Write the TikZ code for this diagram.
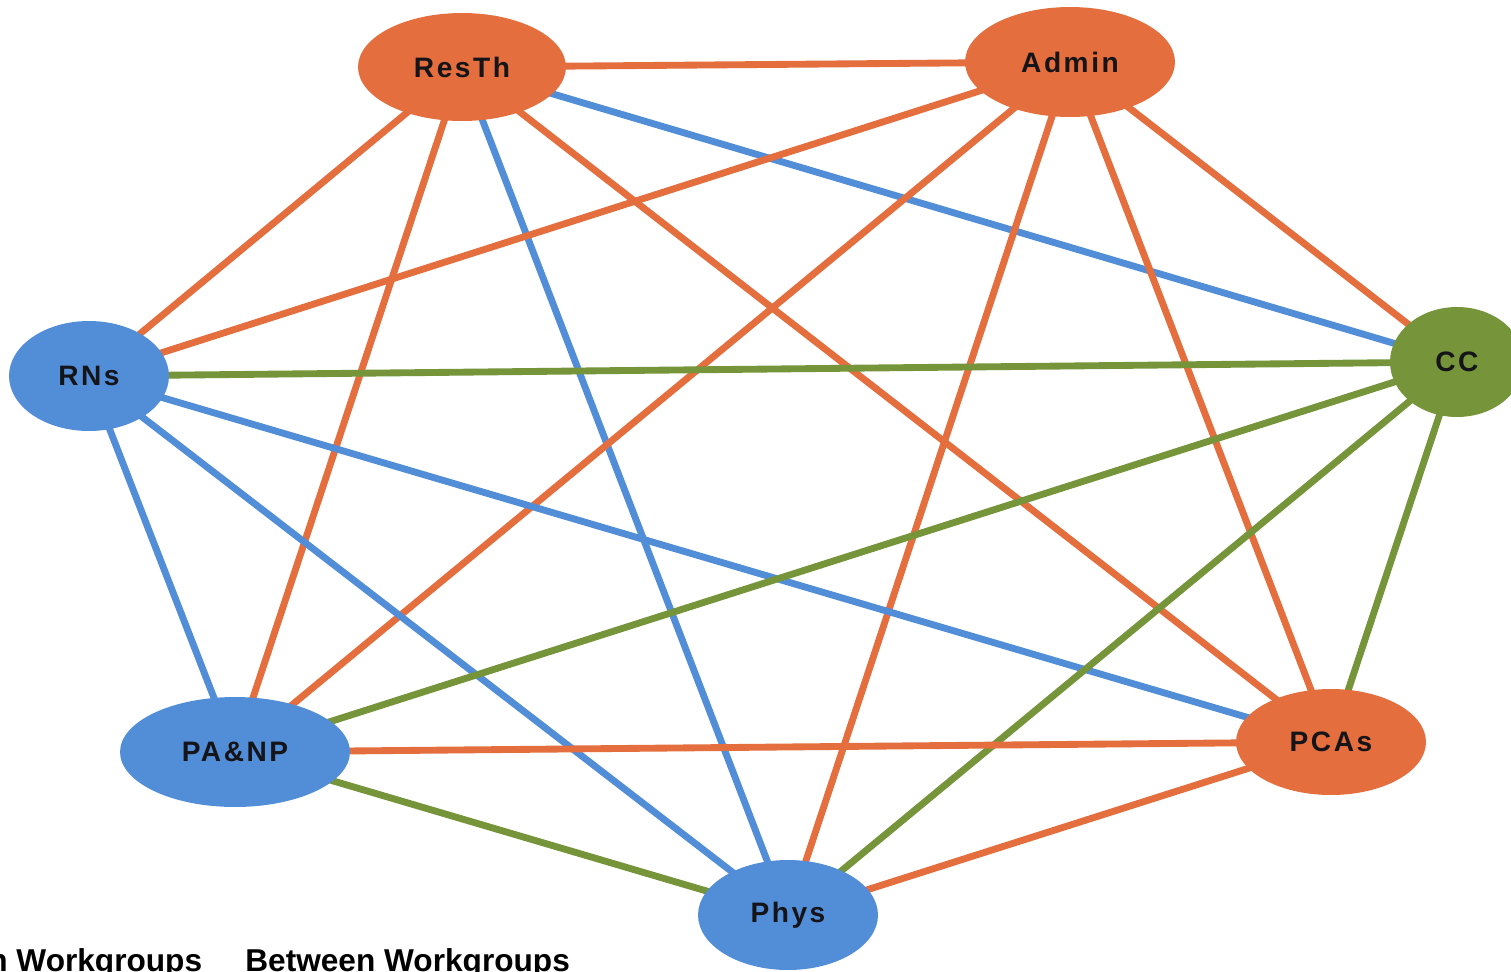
\documentclass[tikz,border=0pt]{standalone}
\usepackage{fontspec}
\setmainfont{Liberation Sans}
\newfontfamily\nodefont[LetterSpace=9]{Liberation Sans}
\usetikzlibrary{shapes.geometric,backgrounds}
\definecolor{eorange}{RGB}{228,110,62}
\definecolor{eblue}{RGB}{82,142,216}
\definecolor{egreen}{RGB}{118,148,58}
\definecolor{etext}{RGB}{20,20,25}
\tikzset{
  wg/.style={ellipse, inner sep=0pt, text=etext, font=\nodefont\fontsize{16}{18}\selectfont\bfseries},
  orn/.style={wg, fill=eorange},
  blu/.style={wg, fill=eblue},
  grn/.style={wg, fill=egreen},
  link/.style={line width=3.9pt},
  eo/.style={link, draw=eorange},
  eb/.style={link, draw=eblue},
  eg/.style={link, draw=egreen},
  legend/.style={anchor=base west, inner sep=0pt, text=black, font=\fontsize{18}{20}\selectfont\bfseries}
}
\begin{document}
\begin{tikzpicture}[x=0.02cm,y=-0.02cm]
\useasboundingbox (0,0) rectangle (1511,971);
\node[orn, minimum width=4.16cm, minimum height=2.16cm] (ResTh) at (462,67) {ResTh};
\node[orn, minimum width=4.2cm, minimum height=2.2cm] (Admin) at (1070,62) {Admin};
\node[grn, minimum width=2.68cm, minimum height=2.2cm] (CC) at (1457,362) {CC};
\node[blu, minimum width=3.2cm, minimum height=2.2cm] (RNs) at (89,376) {RNs};
\node[blu, minimum width=4.6cm, minimum height=2.2cm] (PANP) at (235,752) {PA\&NP};
\node[orn, minimum width=3.8cm, minimum height=2.12cm] (PCAs) at (1331,742) {PCAs};
\node[blu, minimum width=3.6cm, minimum height=2.2cm] (Phys) at (788,915) {Phys};
\begin{scope}[on background layer]
\fill[white] (0,0) rectangle (1511,971);
\draw[eo] (ResTh.center) -- (Admin.center);
\draw[eb] (ResTh.center) -- (CC.center);
\draw[eo] (ResTh.center) -- (RNs.center);
\draw[eo] (ResTh.center) -- (PANP.center);
\draw[eb] (ResTh.center) -- (Phys.center);
\draw[eo] (ResTh.center) -- (PCAs.center);
\draw[eo] (Admin.center) -- (RNs.center);
\draw[eo] (Admin.center) -- (PANP.center);
\draw[eo] (Admin.center) -- (Phys.center);
\draw[eo] (Admin.center) -- (PCAs.center);
\draw[eo] (Admin.center) -- (CC.center);
\draw[eg] (RNs.center) -- (CC.center);
\draw[eb] (RNs.center) -- (PANP.center);
\draw[eb] (RNs.center) -- (Phys.center);
\draw[eb] (RNs.center) -- (PCAs.center);
\draw[eg] (CC.center) -- (PANP.center);
\draw[eg] (CC.center) -- (Phys.center);
\draw[eg] (CC.center) -- (PCAs.center);
\draw[eo] (PANP.center) -- (PCAs.center);
\draw[eg] (PANP.center) -- (Phys.center);
\draw[eo] (Phys.center) -- (PCAs.center);
\end{scope}
\node[legend] (within) at (-12,971) {n Workgroups};
\node[legend] (between) at (245,971) {Between Workgroups};
\end{tikzpicture}
\end{document}
